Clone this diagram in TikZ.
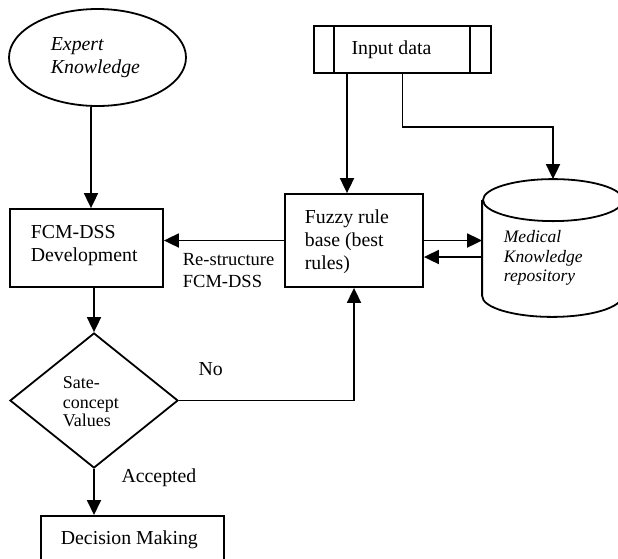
\documentclass[tikz,border=0pt]{standalone}
\usepackage{fontspec}
\setmainfont{Liberation Serif}
\usetikzlibrary{shapes.geometric,arrows.meta,calc}
\begin{document}
\begin{tikzpicture}[x=1pt,y=-1pt,line width=1.8pt,
  box/.style={draw,rectangle,inner sep=0pt,line width=1.8pt},
  arr/.style={-{Triangle[length=15pt,width=14pt]},line width=1.8pt},
  lbl/.style={anchor=base west,inner sep=0pt,font=\fontsize{19.8}{23}\selectfont},
  ilbl/.style={anchor=base west,inner sep=0pt,font=\fontsize{19.8}{23}\selectfont\itshape},
  clbl/.style={anchor=base west,inner sep=0pt,font=\fontsize{17.5}{20}\selectfont\itshape},
  dlbl/.style={anchor=base west,inner sep=0pt,font=\fontsize{18}{20}\selectfont},
  rlbl/.style={anchor=base west,inner sep=0pt,font=\fontsize{18.5}{21}\selectfont}]
\useasboundingbox (0,0) rectangle (618,558);
\clip (0,0) rectangle (618,558);
% shapes
\node[ellipse,draw,minimum width=177pt,minimum height=97pt,inner sep=0pt] (ek) at (97.5,57.5) {};
\node[box,minimum width=153pt,minimum height=78pt] (fcm) at (86.5,248) {};
\node[box,minimum width=177pt,minimum height=47pt] (inp) at (402.5,49.5) {};
\draw ([xshift=21pt]inp.north west) -- ([xshift=21pt]inp.south west);
\draw ([xshift=-22pt]inp.north east) -- ([xshift=-22pt]inp.south east);
\node[box,minimum width=138pt,minimum height=93pt] (fz) at (354,240.5) {};
\node[diamond,draw,aspect=1.244,minimum width=168pt,minimum height=135pt,inner sep=0pt] (dm) at (94,400.5) {};
\node[box,minimum width=183pt,minimum height=60pt,anchor=north] (dec) at (132.5,515) {};
% cylinder
\node[inner sep=0pt,minimum width=140pt,minimum height=136pt] (mk) at (553,248) {};
\draw ($(mk.north)+(0,21)$) ellipse [x radius=70pt,y radius=21pt];
\draw ($(mk.north west)+(0,21)$) -- ($(mk.south west)+(0,-21)$)
  arc[start angle=180,end angle=360,x radius=70pt,y radius=21pt]
  -- ($(mk.north east)+(0,21)$);
% helper coordinates
\coordinate (c1) at (91,0);
\coordinate (c2) at (347,0);
\coordinate (c3) at (500,127);
\coordinate (c4) at (0,257);
% connectors
\draw[arr] (ek.south -| c1) -- (fcm.north -| c1);
\draw[arr] (inp.south -| c2) -- (fz.north -| c2);
\draw[arr] (inp.south) -- (inp.south |- c3) -| (mk.north);
\draw[arr] (fz.west) -- (fz.west -| fcm.east);
\draw[arr] (fz.east) -- (fz.east -| mk.west);
\draw[arr] (mk.west |- c4) -- (fz.east |- c4);
\draw[arr] (fcm.south -| dm.north) -- (dm.north);
\draw[arr] (dm.east) -| (fz.south);
\draw[arr] (dm.south) -- (dm.south |- dec.north);
% texts
\node[ilbl] (t1) at (50,50) {Expert};
\node[ilbl] (t2) at (50,73) {Knowledge};
\node[lbl] (t3) at (30,238) {FCM-DSS};
\node[lbl] (t4) at (30,261.5) {Development};
\node[lbl] (t5) at (350.7,54) {Input data};
\node[lbl] (t6) at (304,223) {Fuzzy rule};
\node[lbl] (t7) at (304,246) {base (best};
\node[lbl] (t8) at (304,269) {rules)};
\node[clbl] (t9) at (503,242.7) {Medical};
\node[clbl] (t10) at (503,262.7) {Knowledge};
\node[clbl] (t11) at (503,281.5) {repository};
\node[rlbl] (t12) at (182,265) {Re-structure};
\node[rlbl] (t13) at (182,287.3) {FCM-DSS};
\node[lbl] (t14) at (197.7,375) {No};
\node[dlbl] (t15) at (62,388.3) {Sate-};
\node[dlbl] (t16) at (62,408) {concept};
\node[dlbl] (t17) at (62,426.7) {Values};
\node[lbl] (t18) at (120.7,482) {Accepted};
\node[lbl] (t19) at (60,544.3) {Decision Making};
\end{tikzpicture}
\end{document}
